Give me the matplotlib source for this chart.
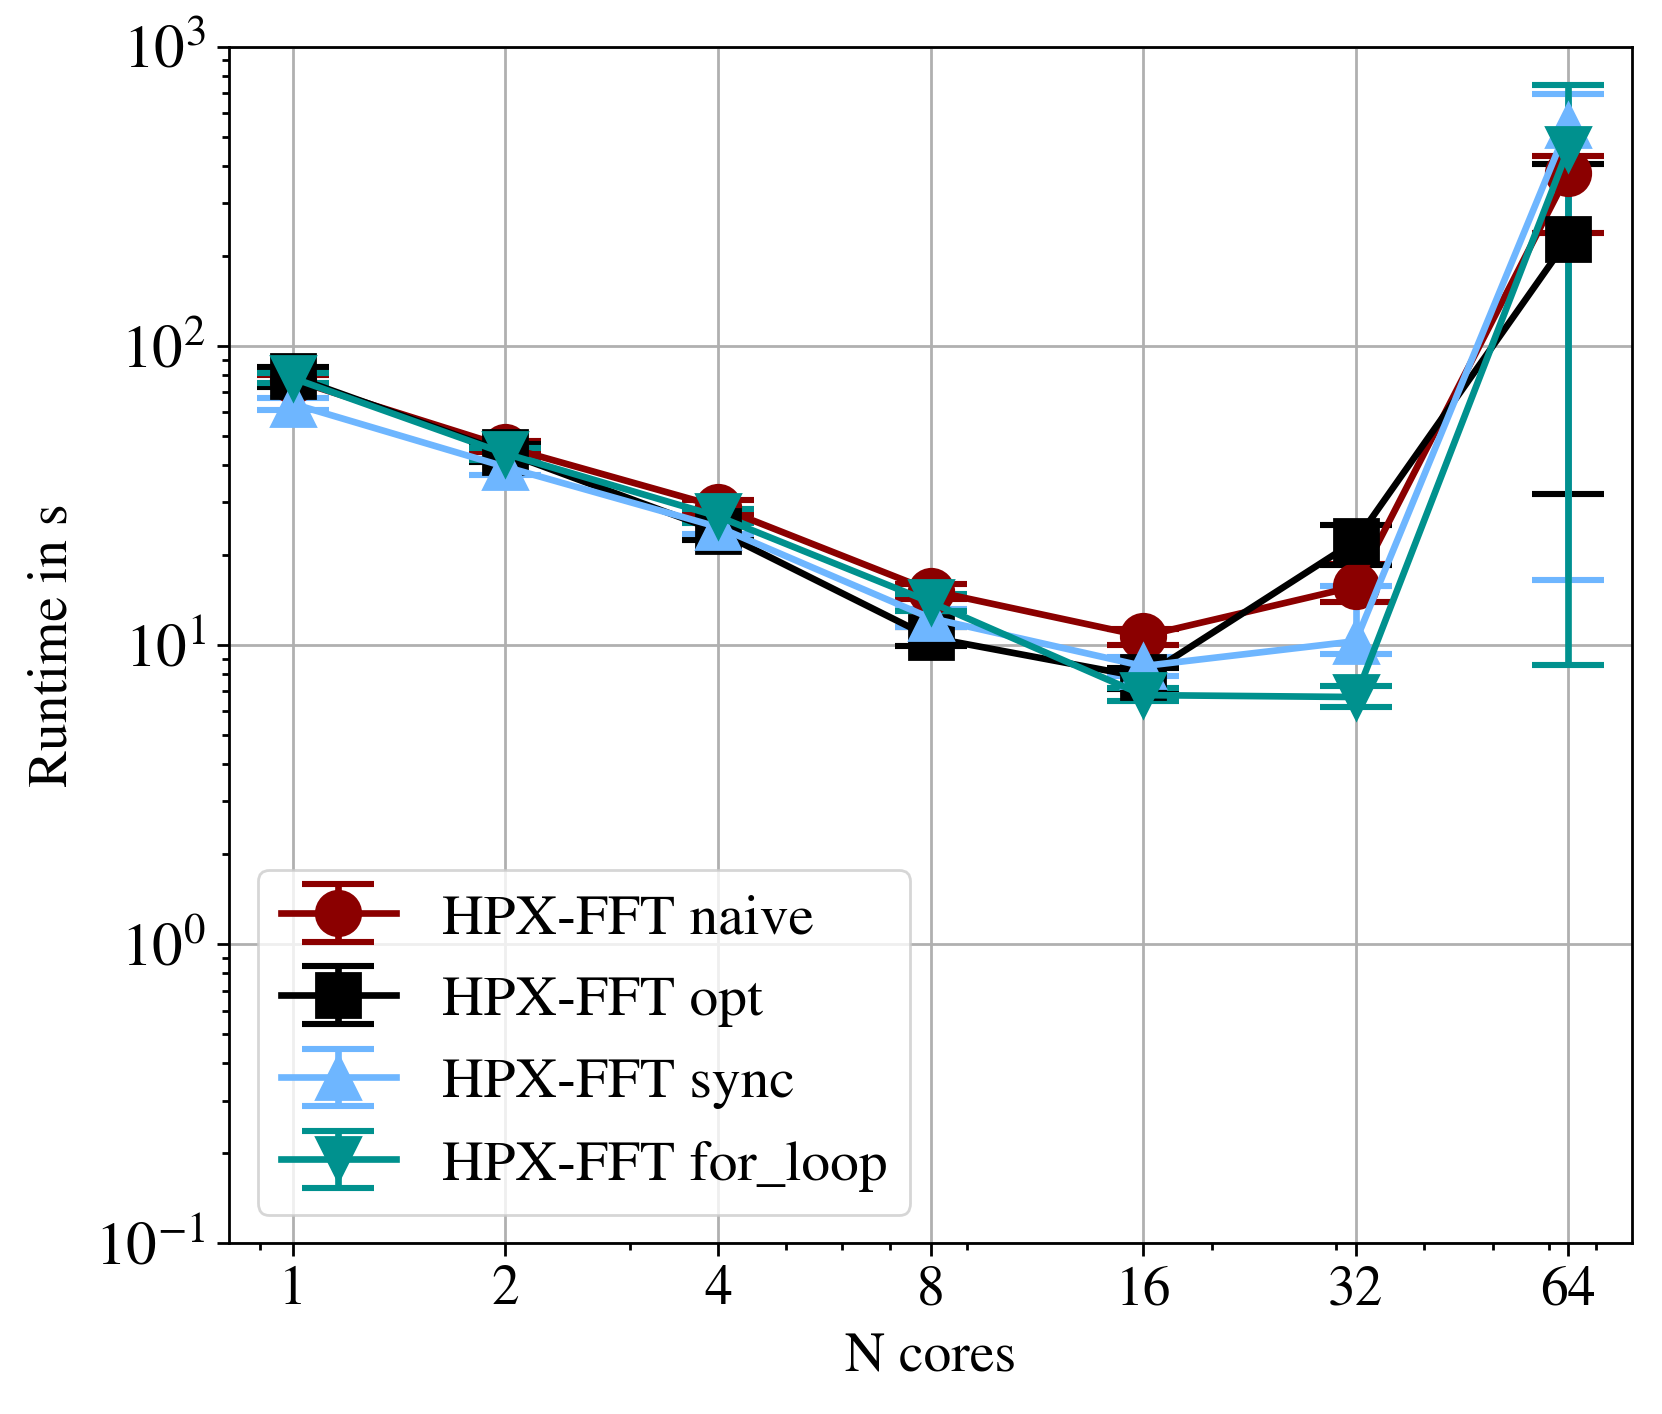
import numpy as np
import matplotlib
matplotlib.use('Agg')
import matplotlib.pyplot as plt
from matplotlib.ticker import NullFormatter

plt.rcParams['font.family'] = ['STIXGeneral', 'DejaVu Serif']
plt.rcParams['mathtext.fontset'] = 'stix'

cores = [1, 2, 4, 8, 16, 32, 64]
tick_labels = ['1', '2', '4', '8', '16', '32', '64']

# runtime in s, with lower / upper error bounds
naive = [77, 46, 29, 15.2, 10.7, 15.7, 378]
naive_lo = [74, 44, 27.5, 14.2, 10.0, 13.9, 239]
naive_hi = [80, 48, 30.5, 16.0, 11.3, 18.6, 431]

opt = [79, 44, 24, 10.6, 7.8, 22.3, 228]
opt_lo = [73, 41, 22.5, 9.9, 7.1, 18.5, 32]
opt_hi = [85, 47, 26, 11.5, 8.4, 25.1, 404]

sync = [64, 39.4, 24.8, 12.3, 8.5, 10.3, 547]
sync_lo = [61, 37, 23.5, 11.5, 7.9, 9.3, 16.5]
sync_hi = [67, 42, 26, 13.2, 9.1, 15.8, 693]

for_loop = [78, 43.6, 26.9, 13.9, 6.8, 6.7, 456]
for_loop_lo = [75, 41.5, 25.5, 13.0, 6.5, 6.2, 8.6]
for_loop_hi = [81, 45.5, 28.5, 14.8, 7.2, 7.3, 745]

series = [
    ('HPX-FFT naive', naive, naive_lo, naive_hi, '#8B0000', 'o'),
    ('HPX-FFT opt', opt, opt_lo, opt_hi, 'black', 's'),
    ('HPX-FFT sync', sync, sync_lo, sync_hi, '#6EB6FF', '^'),
    ('HPX-FFT for_loop', for_loop, for_loop_lo, for_loop_hi, '#00918E', 'v'),
]

fig = plt.figure(figsize=(8.31, 7.07), dpi=200)
ax = fig.add_axes([0.1378, 0.1207, 0.982 - 0.1378, 0.967 - 0.1207])

for name, y, lo, hi, col, mk in series:
    y = np.array(y)
    err = [y - np.array(lo), np.array(hi) - y]
    ax.errorbar(cores, y, yerr=err, label=name, color=col, marker=mk,
                ms=16, lw=2.4, capsize=13, capthick=2.2, elinewidth=2.4)

ax.set_xscale('log')
ax.set_yscale('log')
ax.set_ylim(0.1, 1000)
ax.set_xticks(cores)
ax.set_xticklabels(tick_labels)
ax.xaxis.set_minor_formatter(NullFormatter())
ax.grid(True, which='major', color='#b0b0b0', lw=1.0)
ax.tick_params(axis='x', labelsize=20)
ax.tick_params(axis='y', labelsize=22, pad=4)
ax.tick_params(which='major', length=4.5, width=1.0)
ax.tick_params(which='minor', length=2.5, width=1.0)
for s in ax.spines.values():
    s.set_linewidth(1.0)

ax.set_xlabel('N cores', fontsize=20, labelpad=6)
ax.set_ylabel('Runtime in s', fontsize=20, labelpad=6)
ax.legend(loc='lower left', fontsize=20.7, labelspacing=0.52)

fig.savefig('out.png', dpi=200)
